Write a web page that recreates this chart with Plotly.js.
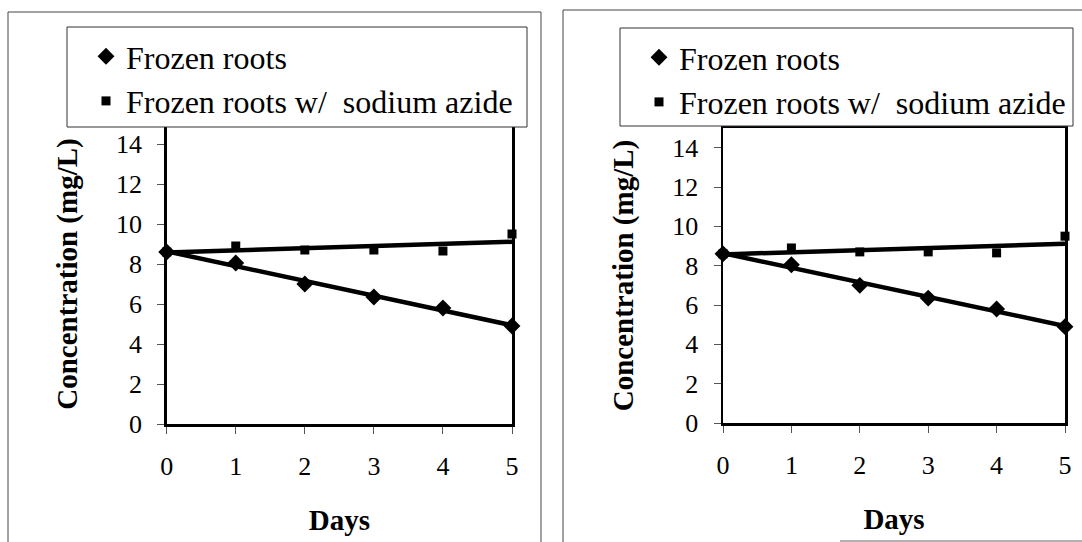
<!DOCTYPE html>
<html>
<head>
<meta charset="utf-8">
<script src="https://cdn.plot.ly/plotly-3.0.1.min.js"></script>
<style>
  html, body { margin: 0; padding: 0; background: #ffffff; }
  #chart { width: 1082px; height: 542px; }
</style>
</head>
<body>
<div id="chart"></div>
<script>
// Concentration over time, frozen roots with and without sodium azide
const days = [0, 1, 2, 3, 4, 5];
const frozenRoots = [8.6, 8.05, 7.0, 6.35, 5.8, 4.9];
const frozenRootsAzide = [8.6, 8.9, 8.7, 8.7, 8.65, 9.5];
const seriesNames = ['Frozen roots', 'Frozen roots w/\u2002sodium azide'];
const yTickValues = [0, 2, 4, 6, 8, 10, 12, 14];
const xTickValues = [0, 1, 2, 3, 4, 5];
const xTitle = 'Days';
const yTitle = 'Concentration (mg/L)';

const W = 1082, H = 542;
const SERIF = 'Liberation Serif';
const px = x => x / W;
const py = y => 1 - y / H;

// least-squares line through a series
function linearFit(xs, ys) {
  const n = xs.length;
  const mx = xs.reduce((a, b) => a + b, 0) / n;
  const my = ys.reduce((a, b) => a + b, 0) / n;
  let sxy = 0, sxx = 0;
  for (let i = 0; i < n; i++) {
    sxy += (xs[i] - mx) * (ys[i] - my);
    sxx += (xs[i] - mx) * (xs[i] - mx);
  }
  const slope = sxy / sxx;
  const icpt = my - slope * mx;
  const x0 = Math.min(...xs), x1 = Math.max(...xs);
  return { x: [x0, x1], y: [icpt + slope * x0, icpt + slope * x1] };
}

// two identical panels
const panels = [
  { xa: 'x', ya: 'y', legend: 'legend',
    xdom: [px(166.7), px(512)], ydom: [py(424), py(124)],
    box: [8, 12, 541, 600], legBox: [67, 27, 527, 127] },
  { xa: 'x2', ya: 'y2', legend: 'legend2',
    xdom: [px(723), px(1065)], ydom: [py(423), py(128)],
    box: [563, 10, 1100, 600], legBox: [620, 28, 1073, 126] }
];

const traces = [];
const layout = {
  width: W, height: H,
  margin: { l: 0, r: 0, t: 0, b: 0 },
  paper_bgcolor: '#ffffff',
  plot_bgcolor: '#ffffff',
  font: { family: SERIF, color: '#000000', size: 26 },
  showlegend: true,
  shapes: []
};

panels.forEach((p, i) => {
  const fitA = linearFit(days, frozenRoots);
  const fitB = linearFit(days, frozenRootsAzide);
  traces.push({
    x: fitB.x, y: fitB.y, xaxis: p.xa, yaxis: p.ya, mode: 'lines',
    line: { color: '#000000', width: 4.5 }, showlegend: false, hoverinfo: 'skip'
  });
  traces.push({
    x: fitA.x, y: fitA.y, xaxis: p.xa, yaxis: p.ya, mode: 'lines',
    line: { color: '#000000', width: 4.5 }, showlegend: false, hoverinfo: 'skip'
  });
  traces.push({
    x: days, y: frozenRootsAzide, xaxis: p.xa, yaxis: p.ya,
    name: seriesNames[1], mode: 'markers', cliponaxis: false,
    legend: p.legend, legendgroup: 'b' + i, legendrank: 2,
    marker: { symbol: 'square', size: 9, color: '#000000' }
  });
  traces.push({
    x: days, y: frozenRoots, xaxis: p.xa, yaxis: p.ya,
    name: seriesNames[0], mode: 'markers', cliponaxis: false,
    legend: p.legend, legendgroup: 'a' + i, legendrank: 1,
    marker: { symbol: 'diamond', size: 13, color: '#000000' }
  });

  const sfx = i === 0 ? '' : '2';
  layout['xaxis' + sfx] = {
    domain: p.xdom, anchor: p.ya, range: [0, 5],
    tickmode: 'array', tickvals: xTickValues,
    showgrid: false, zeroline: false,
    showline: true, linecolor: '#000000', linewidth: 2.5, mirror: true,
    ticks: 'outside', ticklen: 7, tickwidth: 1, tickcolor: '#555555',
    ticklabelstandoff: 10,
    tickfont: { family: SERIF, size: 26, color: '#000000' },
    title: { text: xTitle, standoff: 30,
             font: { family: SERIF, size: 29, color: '#000000', weight: 'bold' } }
  };
  layout['yaxis' + sfx] = {
    domain: p.ydom, anchor: p.xa, range: [0, 15],
    tickmode: 'array', tickvals: yTickValues,
    showgrid: false, zeroline: false,
    showline: true, linecolor: '#000000', linewidth: 2.5, mirror: true,
    ticks: 'outside', ticklen: 7, tickwidth: 1, tickcolor: '#555555',
    ticklabelstandoff: 10,
    tickfont: { family: SERIF, size: 26, color: '#000000' },
    title: { text: yTitle, standoff: 30,
             font: { family: SERIF, size: 29, color: '#000000', weight: 'bold' } }
  };

  // panel frame
  layout.shapes.push({
    type: 'rect', xref: 'paper', yref: 'paper', layer: 'below',
    x0: px(p.box[0]), x1: px(p.box[2]), y0: py(p.box[3]), y1: py(p.box[1]),
    line: { color: '#444444', width: 1 }, fillcolor: 'rgba(0,0,0,0)'
  });
  // legend frame, covering the top of the plot area
  layout.shapes.push({
    type: 'rect', xref: 'paper', yref: 'paper', layer: 'above',
    x0: px(p.legBox[0]), x1: px(p.legBox[2]), y0: py(p.legBox[3]), y1: py(p.legBox[1]),
    line: { color: '#333333', width: 1 }, fillcolor: '#ffffff'
  });

  layout[p.legend] = {
    x: px(p.legBox[0] + 19), y: py(p.legBox[1] + 2),
    xanchor: 'left', yanchor: 'top',
    bgcolor: 'rgba(0,0,0,0)', borderwidth: 0,
    tracegroupgap: 8, traceorder: 'normal',
    font: { family: SERIF, size: 32, color: '#000000' }
  };
});

// bottom edge of the right-hand frame
layout.shapes.push({
  type: 'line', xref: 'paper', yref: 'paper', layer: 'below',
  x0: px(840), x1: px(1082), y0: py(541), y1: py(541),
  line: { color: '#666666', width: 1 }
});

Plotly.newPlot('chart', traces, layout, { staticPlot: true, displayModeBar: false });
</script>
</body>
</html>
